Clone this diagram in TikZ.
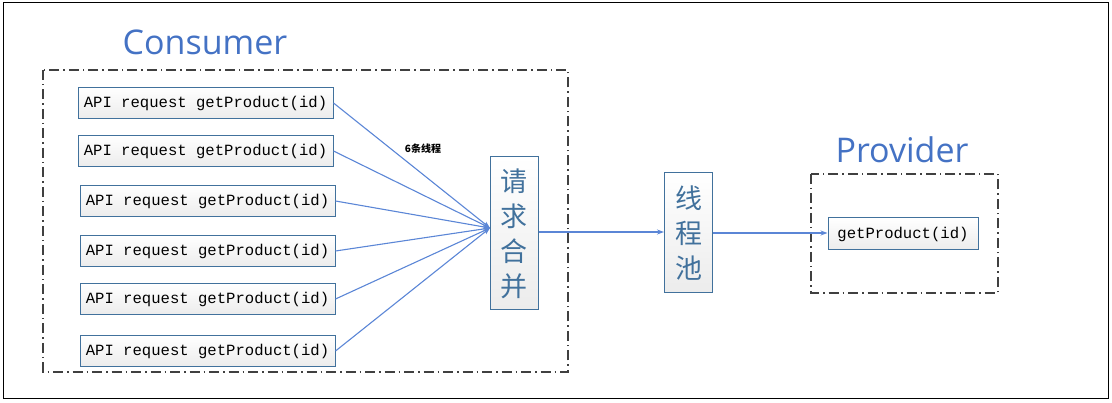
\documentclass[tikz,border=0pt]{standalone}
\usepackage{fontspec}
\setmainfont{Open Sans}
\setmonofont{Liberation Mono}
\newfontfamily\cjk{Noto Sans CJK SC}
\usetikzlibrary{arrows.meta}
\definecolor{boxblue}{HTML}{41719C}
\definecolor{lineblue}{HTML}{5B86D6}
\definecolor{titleblue}{HTML}{4472C4}
\tikzset{
  x=1pt,y=-1pt,
  reqbox/.style={draw=boxblue,line width=1pt,top color=white,bottom color=gray!15,minimum width=255pt,minimum height=31pt,inner sep=2pt,font=\ttfamily\fontsize{15.6}{15.6}\selectfont},
  vbox/.style={draw=boxblue,line width=1pt,top color=white,bottom color=gray!15,minimum width=48pt,font=\cjk\fontsize{27}{35}\selectfont,text=boxblue,align=center},
  grp/.style={draw=gray!50!black,line width=1.4pt,dash pattern=on 10pt off 4pt on 1.5pt off 4pt},
  conn/.style={draw=lineblue,line width=1.1pt,-{Stealth[length=7pt,width=5pt]}},
  title/.style={text=titleblue,font=\fontsize{34}{34}\selectfont}
}
\begin{document}
\begin{tikzpicture}
\useasboundingbox (0,0) rectangle (1112,403);
\draw[black,line width=1pt] (3,3) rectangle (1108,399);
\draw[grp] (43,70) rectangle (568,372);
\node[title] (ct) at (205,42) {Consumer};
\draw[grp] (811,174) rectangle (998,293);
\node[title] (pt) at (902,150) {Provider};
\node[reqbox] (r1) at (205.5,103) {API request getProduct(id)};
\node[reqbox] (r2) at (205.5,151) {API request getProduct(id)};
\node[reqbox] (r3) at (207.5,201) {API request getProduct(id)};
\node[reqbox] (r4) at (207.5,251) {API request getProduct(id)};
\node[reqbox] (r5) at (207.5,299) {API request getProduct(id)};
\node[reqbox] (r6) at (207.5,351) {API request getProduct(id)};
\node[vbox,minimum height=153pt] (m) at (514,233.5) {请\\求\\合\\并};
\node[vbox,minimum height=120pt] (t) at (688.5,233) {线\\程\\池};
\node[draw=boxblue,line width=1pt,top color=white,bottom color=gray!15,minimum width=150pt,minimum height=32pt,font=\ttfamily\fontsize{15.6}{15.6}\selectfont] (g) at (903,234) {getProduct(id)};
\coordinate (mt) at (490,228);
\foreach \i in {1,...,6}{\draw[conn] (r\i.east) -- (mt);}
\node[font=\cjk\bfseries\fontsize{10}{10}\selectfont] (lab) at (423,149) {6条线程};
\draw[conn] (m.east |- 0,232) -- (t.west |- 0,232);
\draw[conn] (t.east |- 0,233) -- (g.west |- 0,233);
\end{tikzpicture}
\end{document}
